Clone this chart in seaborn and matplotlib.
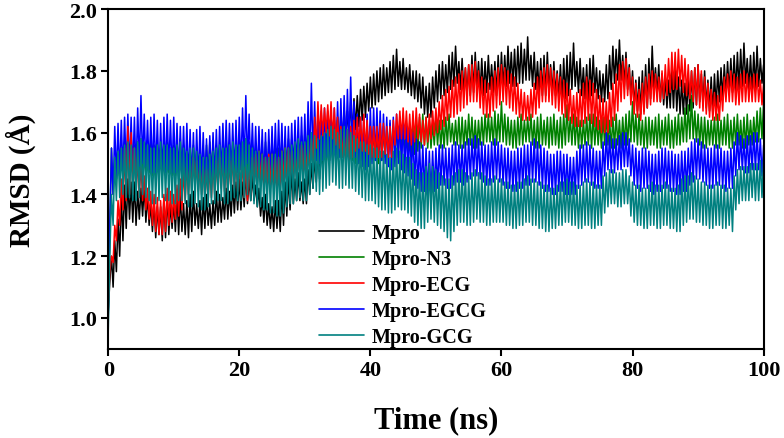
import numpy as np
import pandas as pd
import matplotlib
matplotlib.use("Agg")
import matplotlib.pyplot as plt
import seaborn as sns

# ------------------------------
# Data (RMSD in Angstrom)
# within each ns the trace is sampled four times:
#   *_a at t, *_b at t+0.25, *_c at t+0.5, *_d at t+0.75
# ------------------------------
t_a = list(range(0, 101))
t_b = [t + 0.25 for t in range(0, 100)]
t_c = [t + 0.5 for t in range(0, 100)]
t_d = [t + 0.75 for t in range(0, 100)]

labels = ["Mpro", "Mpro-N3", "Mpro-ECG", "Mpro-EGCG", "Mpro-GCG"]
colors = ["#000000", "#008000", "#ff0000", "#0000ff", "#008080"]
draw_order = ["Mpro", "Mpro-N3", "Mpro-EGCG", "Mpro-ECG", "Mpro-GCG"]

mpro_a = [1.02, 1.25, 1.40, 1.45, 1.44, 1.42, 1.40, 1.38, 1.36, 1.40,
          1.38, 1.40, 1.38, 1.41, 1.38, 1.40, 1.38, 1.40, 1.42, 1.43,
          1.45, 1.47, 1.46, 1.42, 1.40, 1.36, 1.38, 1.44, 1.48, 1.47,
          1.45, 1.50, 1.55, 1.60, 1.62, 1.65, 1.68, 1.70, 1.72, 1.75,
          1.78, 1.80, 1.82, 1.83, 1.87, 1.84, 1.82, 1.80, 1.78, 1.76,
          1.80, 1.83, 1.85, 1.88, 1.84, 1.82, 1.86, 1.84, 1.85, 1.83,
          1.86, 1.88, 1.87, 1.89, 1.91, 1.86, 1.84, 1.86, 1.83, 1.82,
          1.85, 1.89, 1.84, 1.82, 1.85, 1.80, 1.82, 1.88, 1.90, 1.86,
          1.80, 1.78, 1.82, 1.88, 1.82, 1.78, 1.80, 1.78, 1.76, 1.80,
          1.82, 1.80, 1.78, 1.80, 1.82, 1.84, 1.86, 1.89, 1.85, 1.88,
          1.82]
mpro_b = [1.12, 1.15, 1.25, 1.32, 1.30, 1.33, 1.30, 1.26, 1.25, 1.27,
          1.28, 1.28, 1.26, 1.30, 1.27, 1.30, 1.30, 1.31, 1.32, 1.34,
          1.35, 1.37, 1.38, 1.33, 1.30, 1.28, 1.28, 1.33, 1.37, 1.38,
          1.37, 1.42, 1.45, 1.50, 1.52, 1.55, 1.58, 1.60, 1.62, 1.65,
          1.68, 1.70, 1.72, 1.73, 1.75, 1.74, 1.72, 1.70, 1.66, 1.65,
          1.70, 1.72, 1.74, 1.76, 1.73, 1.72, 1.74, 1.72, 1.74, 1.72,
          1.74, 1.76, 1.75, 1.76, 1.77, 1.74, 1.72, 1.73, 1.72, 1.70,
          1.72, 1.75, 1.72, 1.70, 1.73, 1.70, 1.71, 1.76, 1.77, 1.74,
          1.68, 1.66, 1.68, 1.74, 1.70, 1.68, 1.68, 1.66, 1.66, 1.68,
          1.70, 1.68, 1.66, 1.70, 1.72, 1.73, 1.74, 1.76, 1.73, 1.75]
mpro_c = [1.20, 1.32, 1.43, 1.44, 1.41, 1.43, 1.37, 1.36, 1.39, 1.37,
          1.40, 1.37, 1.40, 1.37, 1.39, 1.37, 1.41, 1.39, 1.41, 1.44,
          1.44, 1.45, 1.43, 1.39, 1.37, 1.38, 1.41, 1.46, 1.45, 1.44,
          1.48, 1.52, 1.57, 1.59, 1.64, 1.66, 1.67, 1.71, 1.74, 1.76,
          1.79, 1.81, 1.81, 1.85, 1.83, 1.81, 1.80, 1.79, 1.75, 1.78,
          1.82, 1.82, 1.86, 1.83, 1.81, 1.85, 1.83, 1.83, 1.82, 1.85,
          1.85, 1.86, 1.88, 1.87, 1.85, 1.83, 1.85, 1.82, 1.80, 1.84,
          1.86, 1.83, 1.81, 1.84, 1.81, 1.79, 1.85, 1.87, 1.85, 1.82,
          1.77, 1.80, 1.84, 1.81, 1.79, 1.77, 1.81, 1.77, 1.78, 1.81,
          1.79, 1.77, 1.79, 1.81, 1.83, 1.85, 1.87, 1.84, 1.86, 1.84]
mpro_d = [1.10, 1.20, 1.29, 1.31, 1.32, 1.31, 1.28, 1.27, 1.26, 1.29,
          1.27, 1.27, 1.28, 1.29, 1.29, 1.29, 1.31, 1.32, 1.33, 1.35,
          1.36, 1.38, 1.36, 1.31, 1.29, 1.29, 1.30, 1.35, 1.38, 1.37,
          1.40, 1.44, 1.48, 1.51, 1.54, 1.57, 1.59, 1.61, 1.64, 1.67,
          1.69, 1.71, 1.73, 1.74, 1.74, 1.73, 1.71, 1.68, 1.65, 1.68,
          1.71, 1.73, 1.75, 1.74, 1.72, 1.73, 1.73, 1.73, 1.73, 1.73,
          1.75, 1.75, 1.76, 1.77, 1.75, 1.73, 1.72, 1.72, 1.71, 1.71,
          1.74, 1.73, 1.71, 1.72, 1.71, 1.70, 1.74, 1.77, 1.75, 1.71,
          1.67, 1.67, 1.71, 1.72, 1.69, 1.68, 1.67, 1.66, 1.67, 1.69,
          1.69, 1.67, 1.68, 1.71, 1.73, 1.73, 1.75, 1.74, 1.74, 1.76]

n3_a = [1.00, 1.50, 1.55, 1.58, 1.56, 1.58, 1.55, 1.56, 1.55, 1.57,
        1.56, 1.58, 1.55, 1.56, 1.54, 1.56, 1.57, 1.55, 1.58, 1.56,
        1.57, 1.58, 1.56, 1.55, 1.57, 1.56, 1.55, 1.57, 1.58, 1.58,
        1.60, 1.60, 1.62, 1.60, 1.62, 1.64, 1.63, 1.62, 1.60, 1.62,
        1.62, 1.60, 1.62, 1.63, 1.62, 1.64, 1.62, 1.63, 1.66, 1.64,
        1.65, 1.64, 1.66, 1.64, 1.65, 1.66, 1.64, 1.65, 1.66, 1.67,
        1.70, 1.65, 1.64, 1.66, 1.65, 1.64, 1.66, 1.65, 1.66, 1.65,
        1.69, 1.66, 1.64, 1.65, 1.66, 1.64, 1.66, 1.65, 1.64, 1.66,
        1.70, 1.66, 1.65, 1.64, 1.66, 1.65, 1.64, 1.66, 1.68, 1.72,
        1.66, 1.65, 1.64, 1.66, 1.65, 1.64, 1.66, 1.65, 1.64, 1.67,
        1.70]
n3_b = [1.30, 1.45, 1.47, 1.46, 1.48, 1.46, 1.47, 1.45, 1.46, 1.47,
        1.46, 1.45, 1.46, 1.47, 1.45, 1.46, 1.47, 1.46, 1.45, 1.47,
        1.48, 1.46, 1.47, 1.46, 1.45, 1.47, 1.46, 1.47, 1.48, 1.48,
        1.50, 1.50, 1.52, 1.50, 1.52, 1.53, 1.52, 1.51, 1.50, 1.52,
        1.52, 1.50, 1.52, 1.53, 1.52, 1.53, 1.52, 1.54, 1.56, 1.55,
        1.56, 1.55, 1.57, 1.56, 1.55, 1.56, 1.55, 1.56, 1.57, 1.56,
        1.57, 1.56, 1.55, 1.56, 1.57, 1.55, 1.56, 1.55, 1.56, 1.55,
        1.57, 1.56, 1.55, 1.56, 1.56, 1.55, 1.56, 1.55, 1.55, 1.56,
        1.57, 1.56, 1.55, 1.56, 1.55, 1.56, 1.55, 1.56, 1.57, 1.58,
        1.56, 1.55, 1.56, 1.55, 1.56, 1.55, 1.56, 1.55, 1.56, 1.57]
n3_c = [1.55, 1.53, 1.57, 1.56, 1.57, 1.56, 1.57, 1.54, 1.56, 1.55,
        1.57, 1.56, 1.56, 1.54, 1.55, 1.57, 1.56, 1.57, 1.55, 1.57,
        1.56, 1.57, 1.55, 1.56, 1.56, 1.55, 1.56, 1.58, 1.57, 1.59,
        1.61, 1.61, 1.60, 1.61, 1.63, 1.62, 1.61, 1.61, 1.61, 1.61,
        1.61, 1.62, 1.61, 1.62, 1.63, 1.61, 1.62, 1.65, 1.65, 1.63,
        1.64, 1.65, 1.63, 1.65, 1.64, 1.65, 1.64, 1.66, 1.65, 1.66,
        1.66, 1.64, 1.65, 1.64, 1.66, 1.65, 1.64, 1.65, 1.64, 1.66,
        1.65, 1.65, 1.64, 1.66, 1.65, 1.65, 1.64, 1.66, 1.65, 1.67,
        1.66, 1.64, 1.65, 1.65, 1.64, 1.66, 1.65, 1.65, 1.69, 1.67,
        1.65, 1.64, 1.65, 1.64, 1.66, 1.65, 1.64, 1.66, 1.65, 1.68]
n3_d = [1.40, 1.46, 1.46, 1.47, 1.46, 1.47, 1.46, 1.46, 1.47, 1.46,
        1.45, 1.46, 1.47, 1.46, 1.46, 1.47, 1.45, 1.46, 1.46, 1.48,
        1.47, 1.46, 1.46, 1.45, 1.46, 1.46, 1.47, 1.48, 1.47, 1.49,
        1.51, 1.51, 1.51, 1.51, 1.53, 1.52, 1.51, 1.50, 1.51, 1.53,
        1.51, 1.51, 1.53, 1.52, 1.53, 1.52, 1.53, 1.55, 1.55, 1.56,
        1.55, 1.56, 1.56, 1.55, 1.56, 1.55, 1.56, 1.57, 1.56, 1.57,
        1.56, 1.55, 1.56, 1.57, 1.56, 1.55, 1.56, 1.56, 1.55, 1.56,
        1.56, 1.55, 1.56, 1.55, 1.56, 1.56, 1.55, 1.56, 1.56, 1.57,
        1.56, 1.55, 1.56, 1.55, 1.56, 1.55, 1.56, 1.57, 1.58, 1.57,
        1.55, 1.56, 1.55, 1.56, 1.55, 1.56, 1.55, 1.56, 1.57, 1.58]

ecg_a = [1.05, 1.30, 1.45, 1.62, 1.55, 1.50, 1.42, 1.40, 1.38, 1.42,
         1.40, 1.45, 1.50, 1.52, 1.50, 1.48, 1.50, 1.52, 1.50, 1.52,
         1.50, 1.50, 1.52, 1.54, 1.52, 1.53, 1.52, 1.55, 1.54, 1.55,
         1.56, 1.58, 1.70, 1.68, 1.70, 1.65, 1.60, 1.62, 1.65, 1.66,
         1.62, 1.62, 1.63, 1.62, 1.66, 1.68, 1.66, 1.68, 1.64, 1.66,
         1.68, 1.72, 1.75, 1.78, 1.80, 1.82, 1.83, 1.78, 1.76, 1.80,
         1.82, 1.80, 1.78, 1.74, 1.72, 1.76, 1.80, 1.82, 1.80, 1.78,
         1.76, 1.72, 1.74, 1.78, 1.76, 1.72, 1.70, 1.76, 1.82, 1.84,
         1.78, 1.74, 1.78, 1.80, 1.78, 1.82, 1.86, 1.87, 1.84, 1.80,
         1.82, 1.78, 1.74, 1.72, 1.78, 1.80, 1.78, 1.80, 1.78, 1.79,
         1.76]
ecg_b = [1.15, 1.25, 1.35, 1.40, 1.40, 1.38, 1.32, 1.28, 1.27, 1.30,
         1.32, 1.35, 1.40, 1.42, 1.40, 1.38, 1.40, 1.42, 1.40, 1.42,
         1.40, 1.38, 1.42, 1.44, 1.42, 1.43, 1.42, 1.45, 1.44, 1.45,
         1.46, 1.50, 1.58, 1.60, 1.58, 1.55, 1.50, 1.52, 1.55, 1.54,
         1.52, 1.52, 1.53, 1.52, 1.58, 1.58, 1.56, 1.58, 1.56, 1.58,
         1.60, 1.62, 1.65, 1.66, 1.68, 1.70, 1.70, 1.66, 1.65, 1.68,
         1.70, 1.68, 1.66, 1.64, 1.64, 1.66, 1.70, 1.70, 1.68, 1.66,
         1.64, 1.62, 1.62, 1.64, 1.62, 1.60, 1.60, 1.64, 1.70, 1.72,
         1.66, 1.64, 1.68, 1.70, 1.70, 1.72, 1.74, 1.75, 1.72, 1.70,
         1.68, 1.66, 1.64, 1.64, 1.70, 1.70, 1.69, 1.70, 1.70, 1.70]
ecg_c = [1.20, 1.38, 1.55, 1.60, 1.52, 1.46, 1.41, 1.39, 1.40, 1.41,
         1.43, 1.48, 1.51, 1.51, 1.49, 1.49, 1.51, 1.51, 1.51, 1.51,
         1.51, 1.51, 1.53, 1.53, 1.53, 1.52, 1.54, 1.55, 1.54, 1.56,
         1.57, 1.65, 1.69, 1.69, 1.68, 1.62, 1.61, 1.64, 1.65, 1.64,
         1.62, 1.63, 1.62, 1.64, 1.67, 1.67, 1.67, 1.66, 1.65, 1.67,
         1.70, 1.74, 1.77, 1.79, 1.81, 1.82, 1.80, 1.77, 1.78, 1.81,
         1.81, 1.79, 1.76, 1.73, 1.74, 1.78, 1.81, 1.81, 1.79, 1.77,
         1.74, 1.73, 1.76, 1.77, 1.74, 1.71, 1.73, 1.79, 1.83, 1.81,
         1.76, 1.76, 1.79, 1.79, 1.80, 1.84, 1.86, 1.85, 1.82, 1.81,
         1.80, 1.76, 1.73, 1.75, 1.79, 1.79, 1.79, 1.79, 1.79, 1.77]
ecg_d = [1.18, 1.30, 1.38, 1.40, 1.39, 1.35, 1.30, 1.27, 1.28, 1.31,
         1.33, 1.38, 1.41, 1.41, 1.39, 1.39, 1.41, 1.41, 1.41, 1.41,
         1.39, 1.40, 1.43, 1.43, 1.42, 1.42, 1.44, 1.44, 1.45, 1.46,
         1.48, 1.55, 1.59, 1.59, 1.56, 1.52, 1.51, 1.54, 1.54, 1.53,
         1.52, 1.52, 1.52, 1.56, 1.58, 1.57, 1.57, 1.57, 1.57, 1.59,
         1.61, 1.64, 1.65, 1.67, 1.69, 1.70, 1.68, 1.65, 1.67, 1.69,
         1.69, 1.67, 1.65, 1.64, 1.65, 1.68, 1.70, 1.69, 1.67, 1.65,
         1.63, 1.62, 1.63, 1.63, 1.61, 1.60, 1.62, 1.67, 1.71, 1.69,
         1.65, 1.66, 1.69, 1.70, 1.71, 1.73, 1.74, 1.73, 1.71, 1.69,
         1.67, 1.65, 1.64, 1.67, 1.70, 1.69, 1.70, 1.70, 1.70, 1.69]

egcg_a = [1.00, 1.62, 1.64, 1.66, 1.65, 1.72, 1.64, 1.66, 1.63, 1.66,
          1.65, 1.62, 1.63, 1.60, 1.62, 1.58, 1.60, 1.62, 1.64, 1.63,
          1.65, 1.72, 1.63, 1.62, 1.60, 1.62, 1.64, 1.62, 1.63, 1.65,
          1.66, 1.76, 1.66, 1.68, 1.66, 1.70, 1.72, 1.78, 1.66, 1.65,
          1.68, 1.68, 1.66, 1.64, 1.66, 1.64, 1.62, 1.58, 1.56, 1.54,
          1.55, 1.56, 1.55, 1.57, 1.56, 1.58, 1.59, 1.57, 1.56, 1.58,
          1.56, 1.55, 1.54, 1.55, 1.56, 1.58, 1.56, 1.54, 1.53, 1.54,
          1.53, 1.52, 1.56, 1.57, 1.55, 1.54, 1.60, 1.58, 1.59, 1.60,
          1.56, 1.54, 1.55, 1.53, 1.54, 1.55, 1.54, 1.53, 1.54, 1.57,
          1.58, 1.56, 1.55, 1.56, 1.54, 1.55, 1.60, 1.58, 1.59, 1.60,
          1.56]
egcg_b = [1.30, 1.45, 1.47, 1.48, 1.47, 1.50, 1.48, 1.47, 1.46, 1.48,
          1.47, 1.46, 1.45, 1.43, 1.44, 1.43, 1.45, 1.46, 1.47, 1.46,
          1.48, 1.50, 1.47, 1.46, 1.45, 1.46, 1.47, 1.46, 1.47, 1.48,
          1.48, 1.52, 1.50, 1.52, 1.50, 1.52, 1.54, 1.55, 1.50, 1.48,
          1.50, 1.52, 1.50, 1.48, 1.50, 1.47, 1.45, 1.42, 1.41, 1.40,
          1.42, 1.43, 1.42, 1.44, 1.43, 1.45, 1.46, 1.44, 1.43, 1.45,
          1.43, 1.42, 1.41, 1.42, 1.43, 1.44, 1.42, 1.41, 1.40, 1.41,
          1.40, 1.40, 1.43, 1.44, 1.42, 1.42, 1.48, 1.47, 1.48, 1.49,
          1.43, 1.41, 1.42, 1.40, 1.41, 1.42, 1.41, 1.40, 1.41, 1.44,
          1.45, 1.43, 1.42, 1.43, 1.41, 1.42, 1.48, 1.47, 1.48, 1.48]
egcg_c = [1.55, 1.63, 1.65, 1.65, 1.68, 1.66, 1.65, 1.64, 1.65, 1.64,
          1.63, 1.62, 1.61, 1.61, 1.60, 1.59, 1.61, 1.63, 1.63, 1.64,
          1.68, 1.66, 1.62, 1.61, 1.61, 1.63, 1.63, 1.62, 1.64, 1.65,
          1.70, 1.70, 1.67, 1.67, 1.68, 1.71, 1.74, 1.70, 1.65, 1.66,
          1.68, 1.67, 1.65, 1.65, 1.65, 1.63, 1.60, 1.57, 1.55, 1.54,
          1.56, 1.55, 1.56, 1.56, 1.57, 1.58, 1.58, 1.56, 1.57, 1.57,
          1.55, 1.54, 1.55, 1.56, 1.57, 1.57, 1.55, 1.53, 1.54, 1.53,
          1.52, 1.54, 1.56, 1.56, 1.54, 1.57, 1.59, 1.58, 1.60, 1.58,
          1.55, 1.55, 1.54, 1.53, 1.55, 1.54, 1.53, 1.54, 1.55, 1.58,
          1.57, 1.55, 1.56, 1.55, 1.54, 1.57, 1.59, 1.59, 1.60, 1.58]
egcg_d = [1.40, 1.46, 1.48, 1.47, 1.49, 1.49, 1.47, 1.46, 1.47, 1.47,
          1.46, 1.45, 1.44, 1.44, 1.43, 1.44, 1.46, 1.47, 1.46, 1.47,
          1.49, 1.48, 1.46, 1.45, 1.46, 1.47, 1.46, 1.47, 1.48, 1.48,
          1.50, 1.51, 1.51, 1.51, 1.51, 1.53, 1.55, 1.52, 1.49, 1.49,
          1.51, 1.51, 1.49, 1.49, 1.48, 1.46, 1.43, 1.41, 1.40, 1.41,
          1.43, 1.42, 1.43, 1.44, 1.44, 1.46, 1.45, 1.43, 1.44, 1.44,
          1.42, 1.41, 1.42, 1.43, 1.44, 1.43, 1.41, 1.40, 1.41, 1.40,
          1.40, 1.42, 1.44, 1.43, 1.42, 1.46, 1.47, 1.48, 1.49, 1.46,
          1.42, 1.42, 1.41, 1.41, 1.42, 1.41, 1.40, 1.41, 1.43, 1.45,
          1.44, 1.42, 1.43, 1.42, 1.42, 1.46, 1.48, 1.47, 1.48, 1.46]

gcg_a = [0.95, 1.52, 1.55, 1.57, 1.55, 1.58, 1.56, 1.55, 1.57, 1.56,
         1.55, 1.57, 1.54, 1.55, 1.53, 1.52, 1.54, 1.56, 1.55, 1.57,
         1.56, 1.58, 1.55, 1.54, 1.52, 1.53, 1.52, 1.55, 1.56, 1.58,
         1.57, 1.60, 1.58, 1.60, 1.62, 1.60, 1.62, 1.60, 1.58, 1.57,
         1.56, 1.55, 1.54, 1.52, 1.55, 1.53, 1.52, 1.48, 1.47, 1.50,
         1.48, 1.46, 1.45, 1.47, 1.48, 1.46, 1.48, 1.47, 1.45, 1.46,
         1.45, 1.44, 1.43, 1.44, 1.46, 1.45, 1.44, 1.43, 1.42, 1.44,
         1.45, 1.44, 1.43, 1.45, 1.44, 1.43, 1.47, 1.48, 1.47, 1.48,
         1.44, 1.43, 1.42, 1.44, 1.43, 1.44, 1.42, 1.43, 1.46, 1.47,
         1.45, 1.44, 1.43, 1.44, 1.43, 1.42, 1.48, 1.49, 1.50, 1.50,
         1.52]
gcg_b = [1.20, 1.38, 1.40, 1.39, 1.38, 1.40, 1.38, 1.37, 1.39, 1.38,
         1.37, 1.38, 1.36, 1.37, 1.35, 1.36, 1.37, 1.38, 1.37, 1.39,
         1.38, 1.40, 1.37, 1.36, 1.35, 1.34, 1.33, 1.36, 1.37, 1.39,
         1.38, 1.42, 1.40, 1.42, 1.44, 1.42, 1.43, 1.42, 1.40, 1.38,
         1.38, 1.36, 1.35, 1.34, 1.36, 1.35, 1.33, 1.30, 1.29, 1.32,
         1.30, 1.28, 1.25, 1.30, 1.31, 1.30, 1.32, 1.31, 1.30, 1.31,
         1.31, 1.30, 1.29, 1.30, 1.31, 1.30, 1.29, 1.28, 1.29, 1.30,
         1.31, 1.30, 1.29, 1.30, 1.29, 1.30, 1.36, 1.37, 1.36, 1.37,
         1.31, 1.30, 1.29, 1.30, 1.29, 1.30, 1.29, 1.28, 1.31, 1.32,
         1.31, 1.30, 1.29, 1.30, 1.29, 1.28, 1.37, 1.38, 1.39, 1.38]
gcg_c = [1.40, 1.54, 1.56, 1.56, 1.57, 1.57, 1.55, 1.56, 1.56, 1.55,
         1.56, 1.55, 1.55, 1.54, 1.52, 1.53, 1.55, 1.55, 1.56, 1.56,
         1.57, 1.56, 1.54, 1.53, 1.52, 1.53, 1.54, 1.55, 1.57, 1.57,
         1.59, 1.59, 1.59, 1.61, 1.61, 1.61, 1.61, 1.59, 1.57, 1.56,
         1.55, 1.54, 1.53, 1.54, 1.54, 1.52, 1.50, 1.47, 1.49, 1.49,
         1.47, 1.45, 1.46, 1.48, 1.47, 1.47, 1.47, 1.46, 1.45, 1.45,
         1.44, 1.43, 1.44, 1.45, 1.45, 1.44, 1.43, 1.42, 1.43, 1.44,
         1.44, 1.43, 1.44, 1.44, 1.43, 1.46, 1.48, 1.47, 1.48, 1.46,
         1.43, 1.42, 1.43, 1.43, 1.43, 1.43, 1.42, 1.45, 1.46, 1.46,
         1.44, 1.43, 1.43, 1.43, 1.42, 1.46, 1.49, 1.49, 1.50, 1.51]
gcg_d = [1.30, 1.39, 1.39, 1.38, 1.39, 1.39, 1.37, 1.38, 1.38, 1.37,
         1.38, 1.37, 1.36, 1.36, 1.35, 1.37, 1.38, 1.37, 1.38, 1.38,
         1.39, 1.38, 1.36, 1.35, 1.34, 1.33, 1.34, 1.37, 1.38, 1.38,
         1.40, 1.41, 1.41, 1.43, 1.43, 1.42, 1.42, 1.41, 1.39, 1.38,
         1.37, 1.35, 1.34, 1.35, 1.35, 1.34, 1.31, 1.29, 1.31, 1.31,
         1.29, 1.26, 1.28, 1.31, 1.30, 1.31, 1.31, 1.30, 1.31, 1.31,
         1.30, 1.29, 1.30, 1.31, 1.30, 1.29, 1.28, 1.29, 1.30, 1.31,
         1.30, 1.29, 1.30, 1.29, 1.30, 1.34, 1.37, 1.36, 1.37, 1.33,
         1.30, 1.29, 1.30, 1.29, 1.30, 1.29, 1.28, 1.30, 1.32, 1.31,
         1.30, 1.29, 1.30, 1.29, 1.30, 1.35, 1.38, 1.38, 1.38, 1.39]

series = {
    "Mpro": (mpro_a, mpro_b, mpro_c, mpro_d),
    "Mpro-N3": (n3_a, n3_b, n3_c, n3_d),
    "Mpro-ECG": (ecg_a, ecg_b, ecg_c, ecg_d),
    "Mpro-EGCG": (egcg_a, egcg_b, egcg_c, egcg_d),
    "Mpro-GCG": (gcg_a, gcg_b, gcg_c, gcg_d),
}

# ------------------------------
# Long-form table
# ------------------------------
rows = []
for name, lists in series.items():
    for times, vals in zip((t_a, t_b, t_c, t_d), lists):
        for t, v in zip(times, vals):
            rows.append((name, t, v))
df = pd.DataFrame(rows, columns=["System", "Time", "RMSD"])
df = df.sort_values(["System", "Time"])

# ------------------------------
# Style
# ------------------------------
sns.set_style("ticks")
plt.rcParams["font.family"] = ["Liberation Serif", "DejaVu Serif"]
plt.rcParams["font.weight"] = "bold"
plt.rcParams["axes.labelweight"] = "bold"
for key in ["text.color", "axes.labelcolor", "xtick.color", "ytick.color", "axes.edgecolor"]:
    plt.rcParams[key] = "black"

fig = plt.figure(figsize=(7.84, 4.39), dpi=100)
ax = fig.add_axes([0.138, 0.203, 0.836, 0.774])

palette = dict(zip(labels, colors))
for name in draw_order:
    sub = df[df["System"] == name]
    sns.lineplot(data=sub, x="Time", y="RMSD", color=palette[name], linewidth=1.1,
                 estimator=None, sort=True, ax=ax, label=name)

ax.set_xlim(0, 100)
ax.set_ylim(0.9, 2.0)
ax.set_xticks([0, 20, 40, 60, 80, 100])
ax.set_yticks([1.0, 1.2, 1.4, 1.6, 1.8, 2.0])
ax.set_yticklabels(["1.0", "1.2", "1.4", "1.6", "1.8", "2.0"])
ax.tick_params(axis="both", direction="out", length=5, width=1.5, labelsize=16, pad=3)
for lab in ax.get_xticklabels() + ax.get_yticklabels():
    lab.set_fontweight("bold")
for sp in ax.spines.values():
    sp.set_linewidth(1.5)

ax.set_xlabel("Time (ns)", fontsize=22, fontweight="bold", labelpad=18)
ax.set_ylabel("RMSD (Å)", fontsize=21, fontweight="bold", labelpad=24)

# legend in the original order
handles, names = ax.get_legend_handles_labels()
hmap = dict(zip(names, handles))
leg = ax.legend([hmap[n] for n in labels], labels, loc="upper left",
                bbox_to_anchor=(0.31, 0.394), frameon=False,
                prop={"size": 14.5, "weight": "bold"}, handlelength=2.2,
                handletextpad=0.4, labelspacing=0.3, borderaxespad=0)
for line in leg.get_lines():
    line.set_linewidth(1.2)

fig.savefig("out.png", dpi=100)
